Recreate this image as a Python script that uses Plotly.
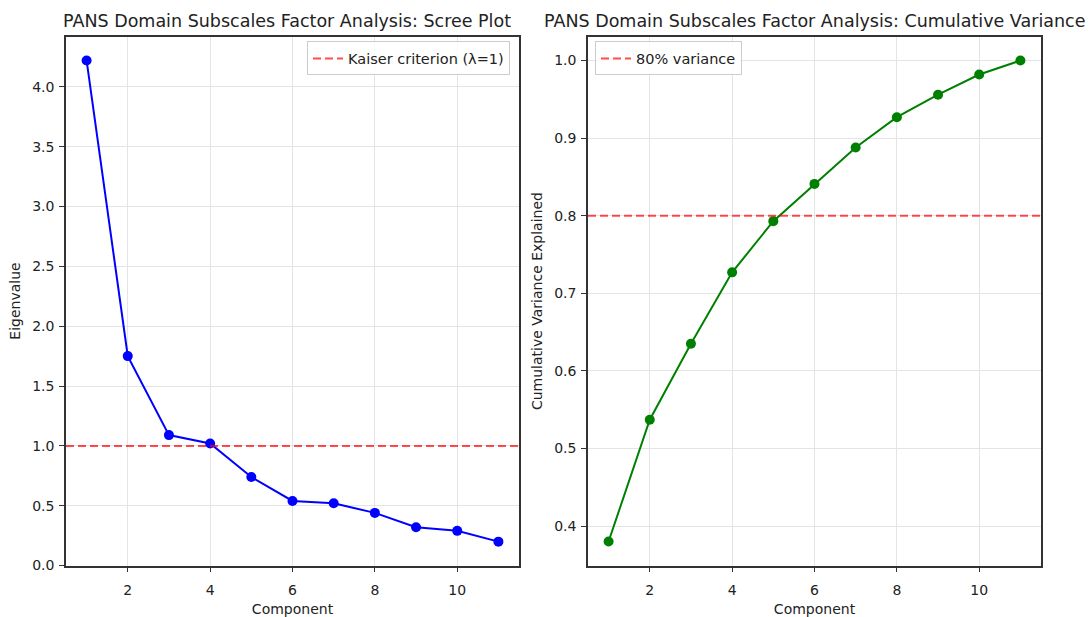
import plotly.graph_objects as go
from plotly.subplots import make_subplots

# Factor analysis of the PANS domain subscales
components = [1, 2, 3, 4, 5, 6, 7, 8, 9, 10, 11]
eigenvalues = [4.22, 1.75, 1.09, 1.02, 0.74, 0.54, 0.52, 0.44, 0.32, 0.29, 0.20]
cumulative_variance = [0.380, 0.537, 0.635, 0.727, 0.793, 0.841, 0.888, 0.927, 0.956, 0.982, 1.000]
kaiser_threshold = 1.0
variance_threshold = 0.8

FONT = "DejaVu Sans"
TEXT = "#222222"
GRID = "#e4e4e4"
SPINE = "#333333"

fig = make_subplots(rows=1, cols=2)

fig.add_trace(go.Scatter(
    x=components, y=eigenvalues, mode="lines+markers",
    line=dict(color="#0000ff", width=2),
    marker=dict(color="#0000ff", size=10),
    showlegend=False,
), row=1, col=1)

fig.add_trace(go.Scatter(
    x=components, y=cumulative_variance, mode="lines+markers",
    line=dict(color="#008000", width=2),
    marker=dict(color="#008000", size=10),
    showlegend=False,
), row=1, col=2)

# Reference lines spanning the full width of each panel
fig.add_shape(type="line", xref="x domain", yref="y", x0=0, x1=1,
              y0=kaiser_threshold, y1=kaiser_threshold,
              line=dict(color="rgba(255,0,0,0.7)", width=2, dash="8px,4px"),
              name="Kaiser criterion (λ=1)", showlegend=True, legend="legend")
fig.add_shape(type="line", xref="x2 domain", yref="y2", x0=0, x1=1,
              y0=variance_threshold, y1=variance_threshold,
              line=dict(color="rgba(255,0,0,0.7)", width=2, dash="8px,4px"),
              name="80% variance", showlegend=True, legend="legend2")

axis_common = dict(
    showline=True, mirror=True, linecolor=SPINE, linewidth=1.6,
    showgrid=True, gridcolor=GRID, gridwidth=1,
    ticks="outside", ticklen=5, tickcolor=SPINE, tickwidth=1.2,
    tickfont=dict(family=FONT, size=14, color=TEXT),
    zeroline=False,
)
label_font = dict(family=FONT, size=14, color=TEXT)

fig.update_xaxes(**axis_common, range=[0.5, 11.5], tick0=0, dtick=2,
                 ticklabelstandoff=6,
                 title=dict(text="Component", font=label_font, standoff=7))
fig.update_layout(
    xaxis=dict(domain=[66 / 1089, 519 / 1089]),
    xaxis2=dict(domain=[588 / 1089, 1041 / 1089]),
    yaxis=dict(**axis_common, domain=[1 - 573 / 617, 1 - 37 / 617],
               range=[0.0, 4.42], tick0=0, dtick=0.5, tickformat=".1f",
               ticklabelstandoff=2,
               title=dict(text="Eigenvalue", font=label_font, standoff=8)),
    yaxis2=dict(**axis_common, domain=[1 - 573 / 617, 1 - 37 / 617],
                range=[0.349, 1.031], tick0=0, dtick=0.1, tickformat=".1f",
                ticklabelstandoff=2,
                title=dict(text="Cumulative Variance Explained", font=label_font, standoff=8)),
)

legend_common = dict(
    bgcolor="rgba(255,255,255,0.85)", bordercolor="#cccccc", borderwidth=1,
    font=dict(family=FONT, size=14.5, color=TEXT), yanchor="top",
    itemwidth=30,
)
fig.update_layout(
    legend=dict(**legend_common, x=510 / 1089, xanchor="right", y=1 - 42 / 617),
    legend2=dict(**legend_common, x=595 / 1089, xanchor="left", y=1 - 42 / 617),
)

titles = [
    ("PANS Domain Subscales Factor Analysis: Scree Plot", 287 / 1089),
    ("PANS Domain Subscales Factor Analysis: Cumulative Variance", 814 / 1089),
]
for text, xc in titles:
    fig.add_annotation(text=text, xref="paper", yref="paper", x=xc, y=1 - 21 / 617,
                       xanchor="center", yanchor="middle", showarrow=False,
                       font=dict(family=FONT, size=17.5, color=TEXT))

fig.update_layout(
    width=1089, height=617,
    margin=dict(l=0, r=0, t=0, b=0),
    paper_bgcolor="white", plot_bgcolor="white",
    font=dict(family=FONT, color=TEXT),
)

fig.write_html("out.html")
